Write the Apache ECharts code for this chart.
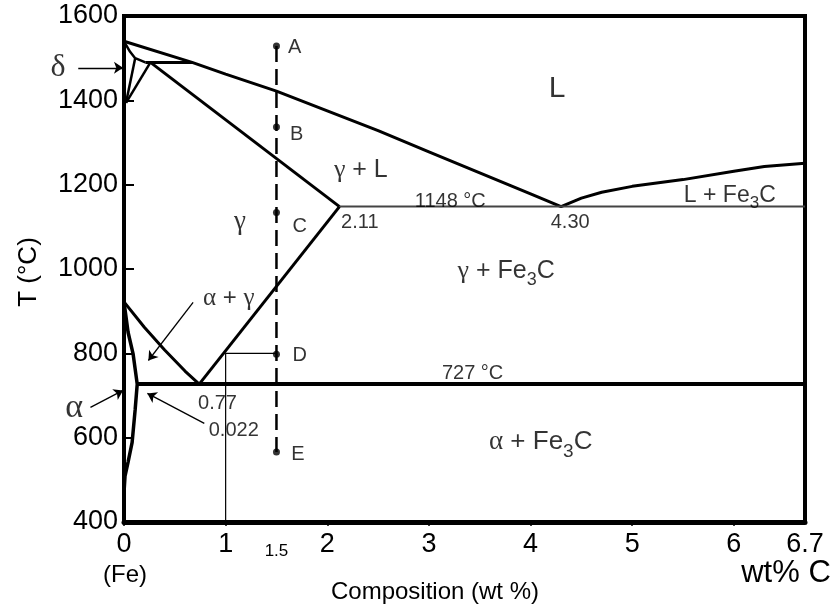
<!DOCTYPE html>
<html>
<head>
<meta charset="utf-8">
<script src="https://cdn.jsdelivr.net/npm/echarts@6/dist/echarts.min.js"></script>
<style>html,body{margin:0;padding:0;background:#fff}#c{width:839px;height:606px}</style>
</head>
<body>
<div id="c"></div>
<script>
// ---------- data ----------
const xTicks = [0, 1, 2, 3, 4, 5, 6];
const xTickLabels = [0, 1, 1.5, 2, 3, 4, 5, 6, 6.7];
const yTicks = [400, 600, 800, 1000, 1200, 1400, 1600];

const liquidusX = [0, 0.67, 1.0, 1.5, 2.0, 2.5, 3.0, 3.5, 4.0, 4.3, 4.5, 4.7, 5.0, 5.5, 6.0, 6.3, 6.7];
const liquidusT = [1540, 1490, 1462, 1422, 1375, 1328, 1278, 1228, 1178, 1148, 1168, 1182, 1196, 1212, 1232, 1243, 1251];

const deltaSolidusX = [0, 0.06, 0.11, 0.21];
const deltaSolidusT = [1540, 1515, 1500, 1490];
const peritecticX = [0.21, 0.67];
const peritecticT = [1490, 1490];
const deltaBoundX = [0.11, 0.02];
const deltaBoundT = [1500, 1394];
const gammaBoundX = [0.26, 0.02];
const gammaBoundT = [1490, 1394];
const gammaSolidusX = [0.26, 2.12];
const gammaSolidusT = [1490, 1148];
const eutecticX = [2.12, 6.7];
const eutecticT = [1148, 1148];
const acmX = [0.74, 2.12];
const acmT = [727, 1148];
const a3X = [0, 0.2, 0.4, 0.6, 0.74];
const a3T = [922, 862, 808, 758, 727];
const alphaX = [0, 0.04, 0.09, 0.13, 0.11, 0.08, 0.04, 0.01, 0];
const alphaT = [922, 850, 798, 727, 667, 589, 542, 509, 470];
const eutectoidX = [0.13, 6.7];
const eutectoidT = [727, 727];
const guideX = [1, 1, 1.5];
const guideT = [400, 800, 800];

const sampleX = [1.5, 1.5, 1.5, 1.5, 1.5];
const sampleT = [1529, 1337, 1134, 798, 566];

// arrows: from (x1,t1) to (x2,t2)
const arrowX1 = [-0.45, -0.33, 0.68, 0.79];
const arrowT1 = [1477, 672, 921, 634];
const arrowX2 = [-0.01, -0.01, 0.24, 0.23];
const arrowT2 = [1477, 712, 783, 705];

// annotations (anchor = text centre)
const annText = ['L', 'γ + L', '1148 °C', '2.11', '4.30', 'L + Fe3C', 'γ', 'γ + Fe3C', 'α + γ', '727 °C',
                 '0.77', '0.022', 'α + Fe3C', 'A', 'B', 'C', 'D', 'E', 'δ', 'α'];
const annX = [4.26, 2.33, 3.21, 2.32, 4.39, 5.96, 1.14, 3.76, 1.03, 3.43,
              0.92, 1.08, 4.10, 1.68, 1.70, 1.73, 1.73, 1.71, -0.65, -0.49];
const annT = [1427, 1235, 1161, 1111, 1111, 1175, 1111, 995, 931, 753,
              682, 616, 590, 1526, 1318, 1102, 794, 559, 1477, 670];

// ---------- styles ----------
const annSize = {'L': 30, 'γ + L': 25, '1148 °C': 20, '2.11': 20, '4.30': 20, 'L + Fe3C': 23, 'γ': 26,
  'γ + Fe3C': 25, 'α + γ': 24, '727 °C': 20, '0.77': 20, '0.022': 20, 'α + Fe3C': 26,
  'A': 20, 'B': 20, 'C': 20, 'D': 20, 'E': 20, 'δ': 30, 'α': 32};
const SANS = '"Liberation Sans", Arial, sans-serif';
const SERIF = '"Liberation Serif", "Times New Roman", serif';

function richFor(size) {
  return {
    n: {fontFamily: SANS, fontSize: size, color: '#000', lineHeight: Math.round(size * 1.45), verticalAlign: 'middle'},
    g: {fontFamily: SERIF, fontSize: Math.round(size * 1.05), color: '#000', lineHeight: Math.round(size * 1.45), verticalAlign: 'middle'},
    sub: {fontFamily: SANS, fontSize: Math.round(size * 0.72), color: '#000', lineHeight: Math.round(size * 0.72), verticalAlign: 'bottom'}
  };
}
function markup(t) {
  const greek = 'αγδ';
  let out = '', buf = '';
  const flush = () => { if (buf) { out += '{n|' + buf + '}'; buf = ''; } };
  for (let i = 0; i < t.length; i++) {
    const ch = t[i];
    if (greek.indexOf(ch) >= 0) { flush(); out += '{g|' + ch + '}'; }
    else if (t.substr(i, 4) === 'Fe3C') { flush(); out += '{n|Fe}{sub|3}{n|C}'; i += 3; }
    else buf += ch;
  }
  flush();
  return out;
}

const zip = (xs, ts) => xs.map((x, i) => [x, ts[i]]);
function phase(xs, ts, width, color, extra) {
  return Object.assign({
    type: 'line', data: zip(xs, ts), showSymbol: false, symbol: 'none', silent: true,
    lineStyle: {color: color || '#000', width: width}, animation: false, clip: false, z: 3
  }, extra || {});
}

const annData = annText.map((t, i) => ({
  value: [annX[i], annT[i]],
  label: {show: true, position: 'inside', formatter: markup(t), rich: richFor(annSize[t])}
}));

const option = {
  animation: false,
  backgroundColor: '#fff',
  grid: {left: 124, right: 34, top: 16, bottom: 84, show: true, borderColor: '#000', borderWidth: 4},
  xAxis: {
    type: 'value', min: 0, max: 6.7, interval: 1,
    axisLine: {show: true, onZero: false, lineStyle: {color: '#000', width: 5}},
    axisTick: {show: true, customValues: xTicks, length: 4, lineStyle: {color: '#000', width: 1.5}},
    splitLine: {show: false},
    axisLabel: {
      customValues: xTickLabels, margin: 9, color: '#000', fontFamily: SANS, fontSize: 27,
      formatter: v => (Math.abs(v - 1.5) < 1e-9 ? '{s|1.5}' : String(v)),
      rich: {s: {fontFamily: SANS, fontSize: 17, color: '#000', padding: [12, 0, 0, 0]}}
    }
  },
  yAxis: {
    type: 'value', min: 400, max: 1600, interval: 200,
    axisLine: {show: true, onZero: false, lineStyle: {color: '#000', width: 4}},
    axisTick: {show: true, inside: true, length: 10, lineStyle: {color: '#000', width: 2}},
    splitLine: {show: false},
    axisLabel: {customValues: yTicks, margin: 6, color: '#000', fontFamily: SANS, fontSize: 27,
      formatter: v => String(v)}
  },
  graphic: [
    {type: 'text', x: 29, y: 272, rotation: Math.PI / 2,
     style: {text: 'T (°C)', fill: '#000', font: '26px ' + SANS, align: 'center', verticalAlign: 'middle'}},
    {type: 'text', x: 125, y: 575,
     style: {text: '(Fe)', fill: '#000', font: '24px ' + SANS, align: 'center', verticalAlign: 'middle'}},
    {type: 'text', x: 435, y: 592,
     style: {text: 'Composition (wt %)', fill: '#000', font: '24px ' + SANS, align: 'center', verticalAlign: 'middle'}},
    {type: 'text', x: 786, y: 573,
     style: {text: 'wt% C', fill: '#000', font: '31px ' + SANS, align: 'center', verticalAlign: 'middle'}}
  ],
  series: [
    phase(liquidusX, liquidusT, 3),
    phase(deltaSolidusX, deltaSolidusT, 2.5),
    phase(peritecticX, peritecticT, 3),
    phase(deltaBoundX, deltaBoundT, 2.5),
    phase(gammaBoundX, gammaBoundT, 2.5),
    phase(gammaSolidusX, gammaSolidusT, 3),
    phase(eutecticX, eutecticT, 2, '#444'),
    phase(acmX, acmT, 3),
    phase(a3X, a3T, 3),
    phase(alphaX, alphaT, 3.5),
    phase(eutectoidX, eutectoidT, 4),
    phase(guideX, guideT, 1.2),
    phase([1.5, 1.5], [sampleT[0], sampleT[sampleT.length - 1]], 2.5, '#000',
      {lineStyle: {color: '#000', width: 2.5, type: [16, 7]}}),
    {
      type: 'scatter', data: zip(sampleX, sampleT), symbol: 'circle', symbolSize: 7,
      itemStyle: {color: '#000'}, silent: true, z: 5, clip: false
    },
    {
      type: 'lines', coordinateSystem: 'cartesian2d', silent: true, clip: false, z: 5,
      data: arrowX1.map((x, i) => ({coords: [[x, arrowT1[i]], [arrowX2[i], arrowT2[i]]]})),
      symbol: ['none', 'arrow'], symbolSize: 9,
      lineStyle: {color: '#000', width: 1.3, opacity: 1, curveness: 0}
    },
    {
      type: 'scatter', data: annData, symbol: 'circle', symbolSize: 1, clip: false, silent: true, z: 6,
      itemStyle: {color: 'rgba(0,0,0,0)'}
    }
  ]
};
const chart = echarts.init(document.getElementById('c'), null, {renderer: 'canvas'});
chart.setOption(option);
</script>
</body>
</html>
